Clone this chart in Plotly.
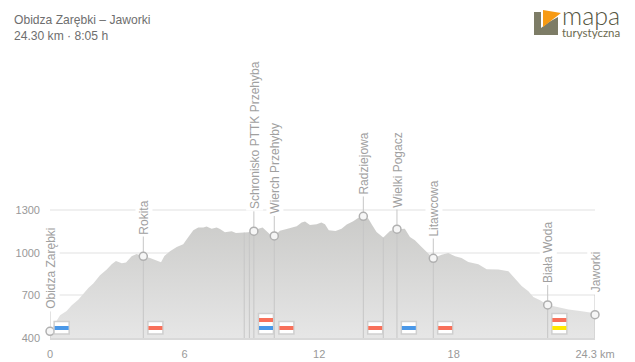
import plotly.graph_objects as go

W, H = 635, 362
ML, MR, MT, MB = 50, 40, 0, 24

# Elevation profile
km = [0,.22,.45,.74,.97,1.26,1.49,1.71,1.93,2.23,2.53,2.75,2.94,3.2,3.39,3.64,3.86,4.16,4.46,4.76,4.95,5.1,5.35,5.65,5.94,
      6.17,6.39,6.61,6.84,6.98,7.21,7.43,7.58,7.8,8.1,8.29,8.62,8.84,9.09,9.29,9.48,9.66,9.84,10.0,10.25,10.55,10.77,11,11.22,
      11.37,11.59,11.89,12.1,12.26,12.43,12.73,13.0,13.23,13.52,13.82,13.97,14.19,14.37,14.56,14.86,15.16,15.47,15.82,16.05,
      16.27,16.57,16.87,17.09,17.46,17.76,18.06,18.35,18.65,19.1,19.47,19.99,20.44,20.73,21.03,21.33,21.55,21.85,22.19,22.67,
      23.12,23.71,24.3]
elev = [447,501,560,590,630,670,712,752,783,842,882,919,943,926,931,975,992,975,964,947,933,978,1011,1041,1060,
        1112,1159,1178,1178,1185,1170,1178,1168,1145,1152,1140,1142,1145,1152,1170,1178,1154,1126,1119,1156,1168,1175,1187,1213,
        1220,1196,1201,1213,1201,1159,1154,1170,1199,1222,1253,1257,1241,1194,1147,1107,1154,1166,1170,1112,
        1088,1041,994,961,987,999,975,964,936,919,884,882,870,818,766,729,689,665,633,616,
        600,588,575]

# Waypoints
way_names = ["Obidza Zarębki","Rokita","Schronisko PTTK Przehyba","Wierch Przehyby","Radziejowa","Wielki Pogacz","Litawcowa","Biała Woda","Jaworki"]
way_km = [0,4.16,9.09,10.0,13.97,15.47,17.09,22.19,24.3]
way_elev = [447,975,1152,1119,1257,1166,961,633,564]
extra_km = [8.66,8.89,14.86]
extra_elev = [1142,1145,1107]

# Trail badges
RED, BLUE, YELLOW = "#f8705a", "#4a98e8", "#ffe800"
badge_km = [0.52,4.70,9.63,10.54,14.5,16.0,17.62,22.71]
badge_colors = [[BLUE],[RED],[RED,BLUE],[RED],[RED],[BLUE],[RED],[RED,YELLOW]]

y_ticks = [400,700,1000,1300]
x_ticks = [0,6,12,18,24.3]
x_labels = ["0","6","12","18","24.3 km"]
title_lines = ["Obidza Zarębki – Jaworki","24.30 km · 8:05 h"]

FONT = "Liberation Sans"
GREY = "#a0a0a0"
LINE = "#c6c6c6"
LEADER = 140

fig = go.Figure()
fig.add_trace(go.Scatter(x=km, y=elev, mode="lines", line=dict(width=0), fill="tozeroy",
    fillgradient=dict(type="vertical", start=1280, stop=400,
                      colorscale=[[0,"#cacac8"],[1,"#e6e6e6"]]),
    hoverinfo="skip", showlegend=False))
fig.add_trace(go.Scatter(x=extra_km, y=extra_elev, mode="markers", marker=dict(size=1, opacity=0),
    error_y=dict(type="data", symmetric=False, array=[0]*3, arrayminus=[e-400 for e in extra_elev],
                 color=LINE, thickness=1, width=0), showlegend=False, hoverinfo="skip"))
fig.add_trace(go.Scatter(x=way_km, y=way_elev, mode="markers", cliponaxis=False,
    marker=dict(size=8, color="#f6f6f6", line=dict(color="#b0b0b0", width=1.5)),
    error_y=dict(type="data", symmetric=False, array=[LEADER]*len(way_km),
                 arrayminus=[e-400 for e in way_elev], color=LINE, thickness=1, width=0),
    showlegend=False, hoverinfo="skip"))

shapes = []
for k, cols in zip(badge_km, badge_colors):
    h = 4 + 8*len(cols) + .5
    shapes.append(dict(type="rect", layer="above", xref="x", yref="y", xsizemode="pixel", ysizemode="pixel",
        xanchor=k, yanchor=400, x0=-7.5, x1=7.5, y0=4, y1=4+h,
        fillcolor="white", line=dict(color="#cfcfcf", width=1.5)))
    for i, c in enumerate(reversed(cols)):
        shapes.append(dict(type="rect", layer="above", xref="x", yref="y", xsizemode="pixel", ysizemode="pixel",
            xanchor=k, yanchor=400, x0=-7, x1=7, y0=8+8*i, y1=12+8*i, fillcolor=c, line=dict(width=0)))

# Logo, placed in page pixels
PW, PH = W-ML-MR, H-MT-MB
def P(pts):
    return "M" + " L".join(f"{(x-ML)/PW:.4f},{1-(y-MT)/PH:.4f}" for x, y in pts) + " Z"
shapes.append(dict(type="path", xref="paper", yref="paper", layer="above", line=dict(width=0), fillcolor="#7d7c66",
    path=P([(534,12),(541,12),(541,35),(534,35)])))
shapes.append(dict(type="path", xref="paper", yref="paper", layer="above", line=dict(width=0), fillcolor="#7d7c66",
    path=P([(541,28),(549,22),(558,17),(558,35),(541,35)])))
shapes.append(dict(type="path", xref="paper", yref="paper", layer="above", line=dict(width=0), fillcolor="#f79a12",
    path=P([(543,10),(561,13),(543,27)])))

ann = []
for n, k, e in zip(way_names, way_km, way_elev):
    ann.append(dict(x=k, y=e, xref="x", yref="y", text=n, textangle=-90, showarrow=False,
        yanchor="bottom", xanchor="center", yshift=20, xshift=1, font=dict(family=FONT, size=12, color=GREY),
        bgcolor="white", borderpad=1))
def page_text(txt, x, y, size, color, family=FONT, weight=400):
    ann.append(dict(x=(x-ML)/PW, y=1-(y-MT)/PH, xref="paper", yref="paper", text=txt, showarrow=False,
        xanchor="left", yanchor="middle", font=dict(family=family, size=size, color=color, weight=weight), borderpad=0, borderwidth=0))
page_text(title_lines[0], 14, 19.5, 12.1, "#6e6e6e")
page_text(title_lines[1], 14, 36, 12.1, "#6e6e6e")
page_text("mapa", 562, 14.5, 25, "#55553f", "Lato", 300)
page_text("turystyczna", 562, 32, 11.5, "#6b6a50", "Lato")

fig.update_layout(width=W, height=H, autosize=False, margin=dict(l=ML, r=MR, t=MT, b=MB, pad=0),
    paper_bgcolor="white", plot_bgcolor="white", showlegend=False, shapes=shapes, annotations=ann,
    font=dict(family=FONT, size=11, color="#999999"),
    xaxis=dict(range=[0,24.3], tickvals=x_ticks, ticktext=x_labels, showgrid=False, zeroline=False,
               ticks="", showline=True, linecolor="#d9d9d9", linewidth=1.5, ticklabelstandoff=5),
    yaxis=dict(range=[400,2780], tickvals=y_ticks, showgrid=True, gridcolor="#f0f0f0", gridwidth=1.5, zeroline=False,
               ticks="", showline=False, ticklabelstandoff=9))
fig.write_html("out.html", config=dict(displayModeBar=False),
               post_script="document.body.style.margin='0';document.documentElement.style.overflow='hidden';")
